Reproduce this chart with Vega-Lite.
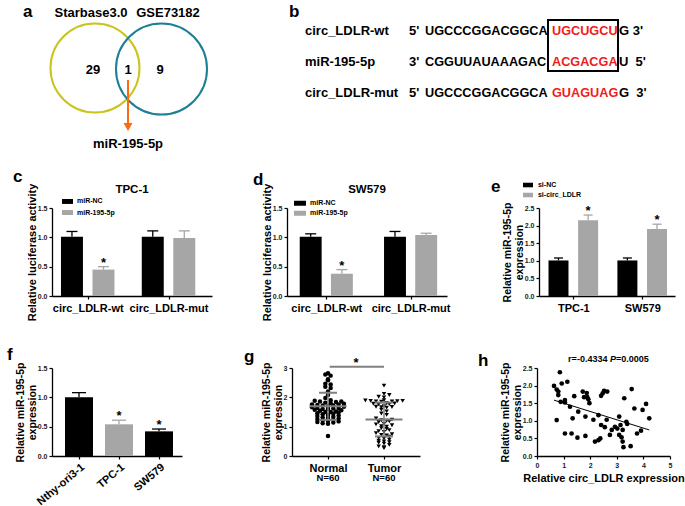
{
"$schema": "https://vega.github.io/schema/vega-lite/v6.json",
"padding": {"left": 7, "top": 0, "right": 0, "bottom": 0},
"spacing": 25,
"config": {
  "font": "Liberation Sans",
  "view": {"stroke": null},
  "axis": {"grid": false, "domainColor": "#000000", "domainWidth": 1.3, "tickColor": "#000000", "tickWidth": 1.2, "tickSize": 3, "labelFont": "Liberation Sans", "labelFontWeight": "bold", "labelFontSize": 7, "labelColor": "#1a1a1a", "labelFlush": false, "labelOverlap": false, "titleFont": "Liberation Sans", "titleFontWeight": "bold", "titleFontSize": 11, "titleColor": "#000000", "labelPadding": 2, "titlePadding": 0, "titleLineHeight": 11.5},
  "legend": {"disable": true},
  "text": {"font": "Liberation Sans", "fontWeight": "bold", "color": "#000000"}
},
"vconcat": [
 {
  "spacing": 15,
  "vconcat": [
  {
    "hconcat": [
      {
        "width": 178, "height": 136,
        "layer": [
          {"data": {"values": [{"set": "Starbase3.0"}]}, "mark": {"type": "point", "filled": false, "size": 7921, "strokeWidth": 2, "color": "#c9c41e", "opacity": 1},
           "encoding": {"x": {"datum": 4.3, "type": "quantitative", "scale": {"domain": [0, 17.8]}, "axis": null}, "y": {"datum": 6.8, "type": "quantitative", "scale": {"domain": [0, 13.6], "reverse": true}, "axis": null}}},
          {"data": {"values": [{"set": "GSE73182"}]}, "mark": {"type": "point", "filled": false, "size": 8281, "strokeWidth": 2, "color": "#1d7f95", "opacity": 1},
           "encoding": {"x": {"datum": 10.95, "type": "quantitative", "scale": {"domain": [0, 17.8]}, "axis": null}, "y": {"datum": 6.9, "type": "quantitative", "scale": {"domain": [0, 13.6], "reverse": true}, "axis": null}}},
          {"data": {"values": [{"label": "Starbase3.0"}]}, "mark": {"type": "text", "fontSize": 13, "baseline": "alphabetic"},
           "encoding": {"x": {"datum": 3.9, "type": "quantitative", "scale": {"domain": [0, 17.8]}, "axis": null}, "y": {"datum": 1.7, "type": "quantitative", "scale": {"domain": [0, 13.6], "reverse": true}, "axis": null}, "text": {"field": "label"}}},
          {"data": {"values": [{"label": "GSE73182"}]}, "mark": {"type": "text", "fontSize": 13, "baseline": "alphabetic"},
           "encoding": {"x": {"datum": 11.6, "type": "quantitative", "scale": {"domain": [0, 17.8]}, "axis": null}, "y": {"datum": 1.7, "type": "quantitative", "scale": {"domain": [0, 13.6], "reverse": true}, "axis": null}, "text": {"field": "label"}}},
          {"data": {"values": [{"region": "Starbase3.0 only", "count": 29}]}, "mark": {"type": "text", "fontSize": 13, "baseline": "alphabetic"},
           "encoding": {"x": {"datum": 4.1, "type": "quantitative", "scale": {"domain": [0, 17.8]}, "axis": null}, "y": {"datum": 7.4, "type": "quantitative", "scale": {"domain": [0, 13.6], "reverse": true}, "axis": null}, "text": {"field": "count"}}},
          {"data": {"values": [{"region": "both", "count": 1}]}, "mark": {"type": "text", "fontSize": 13, "baseline": "alphabetic"},
           "encoding": {"x": {"datum": 7.6, "type": "quantitative", "scale": {"domain": [0, 17.8]}, "axis": null}, "y": {"datum": 7.4, "type": "quantitative", "scale": {"domain": [0, 13.6], "reverse": true}, "axis": null}, "text": {"field": "count"}}},
          {"data": {"values": [{"region": "GSE73182 only", "count": 9}]}, "mark": {"type": "text", "fontSize": 13, "baseline": "alphabetic"},
           "encoding": {"x": {"datum": 10.8, "type": "quantitative", "scale": {"domain": [0, 17.8]}, "axis": null}, "y": {"datum": 7.4, "type": "quantitative", "scale": {"domain": [0, 13.6], "reverse": true}, "axis": null}, "text": {"field": "count"}}},
          {"data": {"values": [{"arrow": "shared"}]}, "mark": {"type": "rule", "color": "#ff6a10", "strokeWidth": 2},
           "encoding": {"x": {"datum": 7.6, "type": "quantitative", "scale": {"domain": [0, 17.8]}, "axis": null}, "y": {"datum": 8.0, "type": "quantitative", "scale": {"domain": [0, 13.6], "reverse": true}, "axis": null}, "y2": {"datum": 12.4}}},
          {"data": {"values": [{"arrow": "head"}]}, "mark": {"type": "point", "shape": "triangle-down", "filled": true, "size": 81, "color": "#ff6a10", "opacity": 1},
           "encoding": {"x": {"datum": 7.6, "type": "quantitative", "scale": {"domain": [0, 17.8]}, "axis": null}, "y": {"datum": 12.7, "type": "quantitative", "scale": {"domain": [0, 13.6], "reverse": true}, "axis": null}}},
          {"data": {"values": [{"label": "miR-195-5p"}]}, "mark": {"type": "text", "fontSize": 13, "baseline": "alphabetic"},
           "encoding": {"x": {"datum": 7.6, "type": "quantitative", "scale": {"domain": [0, 17.8]}, "axis": null}, "y": {"datum": 14.8, "type": "quantitative", "scale": {"domain": [0, 13.6], "reverse": true}, "axis": null}, "text": {"field": "label"}}},
          {"data": {"values": [{"panel": "a"}]}, "mark": {"type": "text", "fontSize": 17, "align": "left", "baseline": "alphabetic"},
           "encoding": {"x": {"datum": -2.9, "type": "quantitative", "scale": {"domain": [0, 17.8]}, "axis": null}, "y": {"datum": 1.7, "type": "quantitative", "scale": {"domain": [0, 13.6], "reverse": true}, "axis": null}, "text": {"field": "panel"}}}
        ]
      },
      {
        "width": 405, "height": 124,
        "data": {"values": [
          {"line": 1, "name": "circ_LDLR-wt", "p5": "5'", "seq": "UGCCCGGACGGCA", "site": "UGCUGCU", "p3": "G 3'"},
          {"line": 2, "name": "miR-195-5p", "p5": "3'", "seq": "CGGUUAUAAAGAC", "site": "ACGACGA", "p3": "U\u00a0\u00a05'"},
          {"line": 3, "name": "circ_LDLR-mut", "p5": "5'", "seq": "UGCCCGGACGGCA", "site": "GUAGUAG", "p3": "G\u00a0\u00a03'"}
        ]},
        "layer": [
          {"mark": {"type": "text", "align": "left", "baseline": "middle", "fontSize": 13},
           "encoding": {"x": {"datum": 2.5, "type": "quantitative", "scale": {"domain": [0, 40.5]}, "axis": null}, "y": {"field": "line", "type": "quantitative", "scale": {"domain": [0, 4], "reverse": true}, "axis": null}, "text": {"field": "name"}}},
          {"mark": {"type": "text", "align": "left", "baseline": "middle", "fontSize": 13},
           "encoding": {"x": {"datum": 12.9, "type": "quantitative", "scale": {"domain": [0, 40.5]}, "axis": null}, "y": {"field": "line", "type": "quantitative", "scale": {"domain": [0, 4], "reverse": true}, "axis": null}, "text": {"field": "p5"}}},
          {"mark": {"type": "text", "align": "left", "baseline": "middle", "fontSize": 12.7},
           "encoding": {"x": {"datum": 14.5, "type": "quantitative", "scale": {"domain": [0, 40.5]}, "axis": null}, "y": {"field": "line", "type": "quantitative", "scale": {"domain": [0, 4], "reverse": true}, "axis": null}, "text": {"field": "seq"}}},
          {"mark": {"type": "text", "align": "left", "baseline": "middle", "fontSize": 12.7, "color": "#f01c1c"},
           "encoding": {"x": {"datum": 27.2, "type": "quantitative", "scale": {"domain": [0, 40.5]}, "axis": null}, "y": {"field": "line", "type": "quantitative", "scale": {"domain": [0, 4], "reverse": true}, "axis": null}, "text": {"field": "site"}}},
          {"mark": {"type": "text", "align": "left", "baseline": "middle", "fontSize": 13},
           "encoding": {"x": {"datum": 33.9, "type": "quantitative", "scale": {"domain": [0, 40.5]}, "axis": null}, "y": {"field": "line", "type": "quantitative", "scale": {"domain": [0, 4], "reverse": true}, "axis": null}, "text": {"field": "p3"}}},
          {"data": {"values": [{"box": "seed region"}]}, "mark": {"type": "rect", "filled": false, "color": "#000000", "strokeWidth": 2},
           "encoding": {"x": {"datum": 26.8, "type": "quantitative", "scale": {"domain": [0, 40.5]}, "axis": null}, "x2": {"datum": 33.8}, "y": {"datum": 0.645, "type": "quantitative", "scale": {"domain": [0, 4], "reverse": true}, "axis": null}, "y2": {"datum": 2.29}}},
          {"data": {"values": [{"panel": "b"}]}, "mark": {"type": "text", "align": "left", "baseline": "alphabetic", "fontSize": 17},
           "encoding": {"x": {"datum": 0.9, "type": "quantitative", "scale": {"domain": [0, 40.5]}, "axis": null}, "y": {"datum": 0.55, "type": "quantitative", "scale": {"domain": [0, 4], "reverse": true}, "axis": null}, "text": {"field": "panel"}}}
        ]
      }
    ],
    "spacing": 50
  },
  {
    "hconcat": [
      {
        "hconcat": [
          {
            "width": 160, "height": 88,
            "data": {"values": [
              {"cat": "circ_LDLR-wt", "grp": "miR-NC", "value": 1.01, "hi": 1.10, "sig": ""},
              {"cat": "circ_LDLR-wt", "grp": "miR-195-5p", "value": 0.45, "hi": 0.50, "sig": "*"},
              {"cat": "circ_LDLR-mut", "grp": "miR-NC", "value": 1.01, "hi": 1.11, "sig": ""},
              {"cat": "circ_LDLR-mut", "grp": "miR-195-5p", "value": 0.99, "hi": 1.11, "sig": ""}
            ]},
            "transform": [
              {"calculate": "indexof(['circ_LDLR-wt','circ_LDLR-mut'], datum.cat) + (indexof(['miR-NC','miR-195-5p'], datum.grp) - 0.5) * 0.39", "as": "bx"},
              {"calculate": "datum.bx - 0.136", "as": "bx1"},
              {"calculate": "datum.bx + 0.136", "as": "bx2"}
            ],
            "encoding": {
              "color": {"field": "grp", "type": "nominal", "scale": {"domain": ["miR-NC", "miR-195-5p"], "range": ["#000000", "#a6a6a6"]}, "legend": null}
            },
            "layer": [
              {"mark": {"type": "rule", "strokeWidth": 1.3}, "encoding": {"x": {"field": "bx", "type": "quantitative", "scale": {"domain": [-0.442, 1.538], "nice": false, "zero": false}}, "y": {"field": "value", "type": "quantitative", "scale": {"domain": [0, 1.5]}}, "y2": {"field": "hi"}}},
              {"mark": {"type": "tick", "orient": "horizontal", "thickness": 1.3, "size": 11, "opacity": 1}, "encoding": {"x": {"field": "bx", "type": "quantitative", "scale": {"domain": [-0.442, 1.538], "nice": false, "zero": false}}, "y": {"field": "hi", "type": "quantitative", "scale": {"domain": [0, 1.5]}}}},
              {"mark": {"type": "rect"}, "encoding": {
                "x": {"field": "bx1", "type": "quantitative", "scale": {"domain": [-0.442, 1.538], "nice": false, "zero": false}, "axis": {"values": [0, 1], "tickCount": 20, "labelExpr": "datum.value == 0 ? 'circ_LDLR-wt' : 'circ_LDLR-mut'", "title": null, "labelFontSize": 11, "labelColor": "#000000", "labelPadding": 3, "labelOverlap": false}},
                "x2": {"field": "bx2"},
                "y": {"field": "value", "type": "quantitative", "scale": {"domain": [0, 1.5]}, "axis": {"values": [0, 0.5, 1, 1.5], "tickCount": 20, "format": ".1f", "title": "Relative luciferase activity", "labelOverlap": false}},
                "y2": {"datum": 0}}},
              {"mark": {"type": "text", "fontSize": 13, "baseline": "alphabetic"}, "encoding": {"x": {"field": "bx", "type": "quantitative", "scale": {"domain": [-0.442, 1.538], "nice": false, "zero": false}}, "y": {"field": "hi", "type": "quantitative", "scale": {"domain": [0, 1.5]}}, "text": {"field": "sig"}, "color": {"value": "#000000"}}},
              {"data": {"values": [{"grp": "miR-NC"}, {"grp": "miR-195-5p"}]},
               "transform": [{"calculate": "1.611 - indexof(['miR-NC','miR-195-5p'], datum.grp) * 0.188", "as": "ly"}, {"calculate": "datum.ly + 0.042", "as": "ly1"}, {"calculate": "datum.ly - 0.042", "as": "ly2"}],
               "layer": [
                 {"mark": {"type": "rect"}, "encoding": {"x": {"datum": -0.318, "type": "quantitative", "scale": {"domain": [-0.442, 1.538], "nice": false, "zero": false}}, "x2": {"datum": -0.182}, "y": {"field": "ly1", "type": "quantitative", "scale": {"domain": [0, 1.5]}}, "y2": {"field": "ly2"}}},
                 {"mark": {"type": "text", "fontSize": 7, "align": "left", "baseline": "middle"}, "encoding": {"x": {"datum": -0.133, "type": "quantitative", "scale": {"domain": [-0.442, 1.538], "nice": false, "zero": false}}, "y": {"field": "ly", "type": "quantitative", "scale": {"domain": [0, 1.5]}}, "text": {"field": "grp"}, "color": {"value": "#000000"}}}
               ]},
              {"data": {"values": [{"cell": "TPC-1"}]}, "mark": {"type": "text", "fontSize": 11.5, "baseline": "alphabetic"},
               "encoding": {"x": {"datum": 0.548, "type": "quantitative", "scale": {"domain": [-0.442, 1.538], "nice": false, "zero": false}}, "y": {"datum": 1.756, "type": "quantitative", "scale": {"domain": [0, 1.5]}}, "text": {"field": "cell"}, "color": {"value": "#000000"}}},
              {"data": {"values": [{"panel": "c"}]}, "mark": {"type": "text", "fontSize": 17, "align": "left", "baseline": "alphabetic"},
               "encoding": {"x": {"datum": -0.925, "type": "quantitative", "scale": {"domain": [-0.442, 1.538], "nice": false, "zero": false}}, "y": {"datum": 1.948, "type": "quantitative", "scale": {"domain": [0, 1.5]}}, "text": {"field": "panel"}, "color": {"value": "#000000"}}}
            ]
          },
          {
            "width": 160, "height": 88,
            "data": {"values": [
              {"cat": "circ_LDLR-wt", "grp": "miR-NC", "value": 1.01, "hi": 1.06, "sig": ""},
              {"cat": "circ_LDLR-wt", "grp": "miR-195-5p", "value": 0.38, "hi": 0.45, "sig": "*"},
              {"cat": "circ_LDLR-mut", "grp": "miR-NC", "value": 1.01, "hi": 1.10, "sig": ""},
              {"cat": "circ_LDLR-mut", "grp": "miR-195-5p", "value": 1.04, "hi": 1.07, "sig": ""}
            ]},
            "transform": [
              {"calculate": "indexof(['circ_LDLR-wt','circ_LDLR-mut'], datum.cat) + (indexof(['miR-NC','miR-195-5p'], datum.grp) - 0.5) * 0.37", "as": "bx"},
              {"calculate": "datum.bx - 0.13", "as": "bx1"},
              {"calculate": "datum.bx + 0.13", "as": "bx2"}
            ],
            "encoding": {
              "color": {"field": "grp", "type": "nominal", "scale": {"domain": ["miR-NC", "miR-195-5p"], "range": ["#000000", "#a6a6a6"]}, "legend": null}
            },
            "layer": [
              {"mark": {"type": "rule", "strokeWidth": 1.3}, "encoding": {"x": {"field": "bx", "type": "quantitative", "scale": {"domain": [-0.466, 1.432], "nice": false, "zero": false}}, "y": {"field": "value", "type": "quantitative", "scale": {"domain": [0, 1.5]}}, "y2": {"field": "hi"}}},
              {"mark": {"type": "tick", "orient": "horizontal", "thickness": 1.3, "size": 11, "opacity": 1}, "encoding": {"x": {"field": "bx", "type": "quantitative", "scale": {"domain": [-0.466, 1.432], "nice": false, "zero": false}}, "y": {"field": "hi", "type": "quantitative", "scale": {"domain": [0, 1.5]}}}},
              {"mark": {"type": "rect"}, "encoding": {
                "x": {"field": "bx1", "type": "quantitative", "scale": {"domain": [-0.466, 1.432], "nice": false, "zero": false}, "axis": {"values": [0, 1], "tickCount": 20, "labelExpr": "datum.value == 0 ? 'circ_LDLR-wt' : 'circ_LDLR-mut'", "title": null, "labelFontSize": 11, "labelColor": "#000000", "labelPadding": 3, "labelOverlap": false}},
                "x2": {"field": "bx2"},
                "y": {"field": "value", "type": "quantitative", "scale": {"domain": [0, 1.5]}, "axis": {"values": [0, 0.5, 1, 1.5], "tickCount": 20, "format": ".1f", "title": "Relative luciferase activity", "labelOverlap": false}},
                "y2": {"datum": 0}}},
              {"mark": {"type": "text", "fontSize": 13, "baseline": "alphabetic"}, "encoding": {"x": {"field": "bx", "type": "quantitative", "scale": {"domain": [-0.466, 1.432], "nice": false, "zero": false}}, "y": {"field": "hi", "type": "quantitative", "scale": {"domain": [0, 1.5]}}, "text": {"field": "sig"}, "color": {"value": "#000000"}}},
              {"data": {"values": [{"grp": "miR-NC"}, {"grp": "miR-195-5p"}]},
               "transform": [{"calculate": "1.580 - indexof(['miR-NC','miR-195-5p'], datum.grp) * 0.168", "as": "ly"}, {"calculate": "datum.ly + 0.042", "as": "ly1"}, {"calculate": "datum.ly - 0.042", "as": "ly2"}],
               "layer": [
                 {"mark": {"type": "rect"}, "encoding": {"x": {"datum": -0.383, "type": "quantitative", "scale": {"domain": [-0.466, 1.432], "nice": false, "zero": false}}, "x2": {"datum": -0.241}, "y": {"field": "ly1", "type": "quantitative", "scale": {"domain": [0, 1.5]}}, "y2": {"field": "ly2"}}},
                 {"mark": {"type": "text", "fontSize": 7, "align": "left", "baseline": "middle"}, "encoding": {"x": {"datum": -0.193, "type": "quantitative", "scale": {"domain": [-0.466, 1.432], "nice": false, "zero": false}}, "y": {"field": "ly", "type": "quantitative", "scale": {"domain": [0, 1.5]}}, "text": {"field": "grp"}, "color": {"value": "#000000"}}}
               ]},
              {"data": {"values": [{"cell": "SW579"}]}, "mark": {"type": "text", "fontSize": 11.5, "baseline": "alphabetic"},
               "encoding": {"x": {"datum": 0.483, "type": "quantitative", "scale": {"domain": [-0.466, 1.432], "nice": false, "zero": false}}, "y": {"datum": 1.756, "type": "quantitative", "scale": {"domain": [0, 1.5]}}, "text": {"field": "cell"}, "color": {"value": "#000000"}}},
              {"data": {"values": [{"panel": "d"}]}, "mark": {"type": "text", "fontSize": 17, "align": "left", "baseline": "alphabetic"},
               "encoding": {"x": {"datum": -0.869, "type": "quantitative", "scale": {"domain": [-0.466, 1.432], "nice": false, "zero": false}}, "y": {"datum": 1.892, "type": "quantitative", "scale": {"domain": [0, 1.5]}}, "text": {"field": "panel"}, "color": {"value": "#000000"}}}
            ]
          }
        ],
        "spacing": 41
      },
      {
        "width": 136, "height": 88,
        "data": {"values": [
          {"cat": "TPC-1", "grp": "si-NC", "value": 1.01, "hi": 1.08, "sig": ""},
          {"cat": "TPC-1", "grp": "si-circ_LDLR", "value": 2.15, "hi": 2.30, "sig": "*"},
          {"cat": "SW579", "grp": "si-NC", "value": 1.01, "hi": 1.08, "sig": ""},
          {"cat": "SW579", "grp": "si-circ_LDLR", "value": 1.90, "hi": 2.04, "sig": "*"}
        ]},
        "transform": [
          {"calculate": "indexof(['TPC-1','SW579'], datum.cat) + (indexof(['si-NC','si-circ_LDLR'], datum.grp) - 0.5) * 0.43", "as": "bx"},
          {"calculate": "datum.bx - 0.145", "as": "bx1"},
          {"calculate": "datum.bx + 0.145", "as": "bx2"}
        ],
        "encoding": {
          "color": {"field": "grp", "type": "nominal", "scale": {"domain": ["si-NC", "si-circ_LDLR"], "range": ["#000000", "#a6a6a6"]}, "legend": null}
        },
        "layer": [
          {"mark": {"type": "rule", "strokeWidth": 1.3}, "encoding": {"x": {"field": "bx", "type": "quantitative", "scale": {"domain": [-0.498, 1.476], "nice": false, "zero": false}}, "y": {"field": "value", "type": "quantitative", "scale": {"domain": [0, 2.5]}}, "y2": {"field": "hi"}}},
          {"mark": {"type": "tick", "orient": "horizontal", "thickness": 1.3, "size": 9, "opacity": 1}, "encoding": {"x": {"field": "bx", "type": "quantitative", "scale": {"domain": [-0.498, 1.476], "nice": false, "zero": false}}, "y": {"field": "hi", "type": "quantitative", "scale": {"domain": [0, 2.5]}}}},
          {"mark": {"type": "rect"}, "encoding": {
            "x": {"field": "bx1", "type": "quantitative", "scale": {"domain": [-0.498, 1.476], "nice": false, "zero": false}, "axis": {"values": [0, 1], "tickCount": 20, "labelExpr": "datum.value == 0 ? 'TPC-1' : 'SW579'", "title": null, "labelFontSize": 11, "labelColor": "#000000", "labelPadding": 3, "labelOverlap": false}},
            "x2": {"field": "bx2"},
            "y": {"field": "value", "type": "quantitative", "scale": {"domain": [0, 2.5]}, "axis": {"values": [0, 0.5, 1, 1.5, 2, 2.5], "tickCount": 20, "format": ".1f", "title": ["Relative miR-195-5p", "expression"], "titleFontSize": 10.5, "labelOverlap": false}},
            "y2": {"datum": 0}}},
          {"mark": {"type": "text", "fontSize": 13, "baseline": "alphabetic"}, "encoding": {"x": {"field": "bx", "type": "quantitative", "scale": {"domain": [-0.498, 1.476], "nice": false, "zero": false}}, "y": {"field": "hi", "type": "quantitative", "scale": {"domain": [0, 2.5]}}, "text": {"field": "sig"}, "color": {"value": "#000000"}}},
          {"data": {"values": [{"grp": "si-NC"}, {"grp": "si-circ_LDLR"}]},
           "transform": [{"calculate": "3.153 - indexof(['si-NC','si-circ_LDLR'], datum.grp) * 0.284", "as": "ly"}, {"calculate": "datum.ly + 0.065", "as": "ly1"}, {"calculate": "datum.ly - 0.065", "as": "ly2"}],
           "layer": [
             {"mark": {"type": "rect"}, "encoding": {"x": {"datum": -0.73, "type": "quantitative", "scale": {"domain": [-0.498, 1.476], "nice": false, "zero": false}}, "x2": {"datum": -0.585}, "y": {"field": "ly1", "type": "quantitative", "scale": {"domain": [0, 2.5]}}, "y2": {"field": "ly2"}}},
             {"mark": {"type": "text", "fontSize": 7, "align": "left", "baseline": "middle"}, "encoding": {"x": {"datum": -0.513, "type": "quantitative", "scale": {"domain": [-0.498, 1.476], "nice": false, "zero": false}}, "y": {"field": "ly", "type": "quantitative", "scale": {"domain": [0, 2.5]}}, "text": {"field": "grp"}, "color": {"value": "#000000"}}}
           ]},
          {"data": {"values": [{"panel": "e"}]}, "mark": {"type": "text", "fontSize": 17, "align": "left", "baseline": "alphabetic"},
           "encoding": {"x": {"datum": -1.195, "type": "quantitative", "scale": {"domain": [-0.498, 1.476], "nice": false, "zero": false}}, "y": {"datum": 2.955, "type": "quantitative", "scale": {"domain": [0, 2.5]}}, "text": {"field": "panel"}, "color": {"value": "#000000"}}}
        ]
      }
    ],
    "spacing": 39
  }
  ]
 },
  {
    "hconcat": [
      {
        "hconcat": [
          {
            "width": 130, "height": 88,
            "data": {"values": [
              {"cat": "Nthy-ori3-1", "value": 1.0, "hi": 1.08, "sig": ""},
              {"cat": "TPC-1", "value": 0.54, "hi": 0.61, "sig": "*"},
              {"cat": "SW579", "value": 0.42, "hi": 0.46, "sig": "*"}
            ]},
            "transform": [
              {"calculate": "0.27 + 0.4 * indexof(['Nthy-ori3-1','TPC-1','SW579'], datum.cat)", "as": "bx"},
              {"calculate": "datum.bx - 0.14", "as": "bx1"},
              {"calculate": "datum.bx + 0.14", "as": "bx2"}
            ],
            "encoding": {
              "color": {"field": "cat", "type": "nominal", "scale": {"domain": ["Nthy-ori3-1", "TPC-1", "SW579"], "range": ["#000000", "#a6a6a6", "#7f7f7f"]}, "legend": null}
            },
            "layer": [
              {"mark": {"type": "rule", "strokeWidth": 1.3}, "encoding": {"x": {"field": "bx", "type": "quantitative", "scale": {"domain": [0, 1.3], "nice": false, "zero": false}}, "y": {"field": "value", "type": "quantitative", "scale": {"domain": [0, 1.5]}}, "y2": {"field": "hi"}}},
              {"mark": {"type": "tick", "orient": "horizontal", "thickness": 1.3, "size": 14, "opacity": 1}, "encoding": {"x": {"field": "bx", "type": "quantitative", "scale": {"domain": [0, 1.3], "nice": false, "zero": false}}, "y": {"field": "hi", "type": "quantitative", "scale": {"domain": [0, 1.5]}}}},
              {"mark": {"type": "rect"}, "encoding": {
                "x": {"field": "bx1", "type": "quantitative", "scale": {"domain": [0, 1.3], "nice": false, "zero": false}, "axis": {"values": [0.27, 0.67, 1.07], "tickCount": 20, "labelExpr": "datum.value < 0.5 ? 'Nthy-ori3-1' : (datum.value < 0.9 ? 'TPC-1' : 'SW579')", "title": null, "labelAngle": -40, "labelAlign": "right", "labelBaseline": "top", "labelFontSize": 11, "labelColor": "#000000", "labelPadding": 2, "labelOverlap": false}},
                "x2": {"field": "bx2"},
                "y": {"field": "value", "type": "quantitative", "scale": {"domain": [0, 1.5]}, "axis": {"values": [0, 0.5, 1, 1.5], "tickCount": 20, "format": ".1f", "title": ["Relative miR-195-5p", "expression"], "titleFontSize": 10.5, "labelOverlap": false}},
                "y2": {"datum": 0}}},
              {"mark": {"type": "text", "fontSize": 13, "baseline": "alphabetic"}, "encoding": {"x": {"field": "bx", "type": "quantitative", "scale": {"domain": [0, 1.3], "nice": false, "zero": false}}, "y": {"field": "hi", "type": "quantitative", "scale": {"domain": [0, 1.5]}}, "text": {"field": "sig"}, "color": {"value": "#000000"}}},
              {"data": {"values": [{"panel": "f"}]}, "mark": {"type": "text", "fontSize": 17, "align": "left", "baseline": "alphabetic"},
               "encoding": {"x": {"datum": -0.45, "type": "quantitative", "scale": {"domain": [0, 1.3], "nice": false, "zero": false}}, "y": {"datum": 1.636, "type": "quantitative", "scale": {"domain": [0, 1.5]}}, "text": {"field": "panel"}, "color": {"value": "#000000"}}}
            ]
          },
          {
            "width": 128, "height": 88,
            "data": {"values": [
              {"group": "Normal", "value": 2.82}, {"group": "Normal", "value": 2.78}, {"group": "Normal", "value": 2.74}, {"group": "Normal", "value": 2.62},
              {"group": "Normal", "value": 2.58}, {"group": "Normal", "value": 2.46}, {"group": "Normal", "value": 2.44}, {"group": "Normal", "value": 2.36},
              {"group": "Normal", "value": 2.32}, {"group": "Normal", "value": 2.20}, {"group": "Normal", "value": 2.08}, {"group": "Normal", "value": 1.98},
              {"group": "Normal", "value": 1.90}, {"group": "Normal", "value": 1.88}, {"group": "Normal", "value": 1.86}, {"group": "Normal", "value": 1.86},
              {"group": "Normal", "value": 1.84}, {"group": "Normal", "value": 1.82}, {"group": "Normal", "value": 1.80}, {"group": "Normal", "value": 1.78},
              {"group": "Normal", "value": 1.76}, {"group": "Normal", "value": 1.76}, {"group": "Normal", "value": 1.74}, {"group": "Normal", "value": 1.72},
              {"group": "Normal", "value": 1.72}, {"group": "Normal", "value": 1.70}, {"group": "Normal", "value": 1.68}, {"group": "Normal", "value": 1.66},
              {"group": "Normal", "value": 1.64}, {"group": "Normal", "value": 1.64}, {"group": "Normal", "value": 1.62}, {"group": "Normal", "value": 1.60},
              {"group": "Normal", "value": 1.60}, {"group": "Normal", "value": 1.58}, {"group": "Normal", "value": 1.56}, {"group": "Normal", "value": 1.54},
              {"group": "Normal", "value": 1.52}, {"group": "Normal", "value": 1.50}, {"group": "Normal", "value": 1.50}, {"group": "Normal", "value": 1.48},
              {"group": "Normal", "value": 1.46}, {"group": "Normal", "value": 1.44}, {"group": "Normal", "value": 1.42}, {"group": "Normal", "value": 1.40},
              {"group": "Normal", "value": 1.38}, {"group": "Normal", "value": 1.36}, {"group": "Normal", "value": 1.34}, {"group": "Normal", "value": 1.32},
              {"group": "Normal", "value": 1.30}, {"group": "Normal", "value": 1.28}, {"group": "Normal", "value": 1.26}, {"group": "Normal", "value": 1.24},
              {"group": "Normal", "value": 1.22}, {"group": "Normal", "value": 1.20}, {"group": "Normal", "value": 1.18}, {"group": "Normal", "value": 1.16},
              {"group": "Normal", "value": 1.14}, {"group": "Normal", "value": 1.12}, {"group": "Normal", "value": 1.10}, {"group": "Normal", "value": 0.68},
              {"group": "Tumor", "value": 2.40}, {"group": "Tumor", "value": 2.12}, {"group": "Tumor", "value": 2.08}, {"group": "Tumor", "value": 2.02},
              {"group": "Tumor", "value": 2.00}, {"group": "Tumor", "value": 1.90}, {"group": "Tumor", "value": 1.89}, {"group": "Tumor", "value": 1.88},
              {"group": "Tumor", "value": 1.88}, {"group": "Tumor", "value": 1.87}, {"group": "Tumor", "value": 1.86}, {"group": "Tumor", "value": 1.86},
              {"group": "Tumor", "value": 1.85}, {"group": "Tumor", "value": 1.80}, {"group": "Tumor", "value": 1.79}, {"group": "Tumor", "value": 1.78},
              {"group": "Tumor", "value": 1.77}, {"group": "Tumor", "value": 1.76}, {"group": "Tumor", "value": 1.70}, {"group": "Tumor", "value": 1.68},
              {"group": "Tumor", "value": 1.67}, {"group": "Tumor", "value": 1.66}, {"group": "Tumor", "value": 1.65}, {"group": "Tumor", "value": 1.58},
              {"group": "Tumor", "value": 1.52}, {"group": "Tumor", "value": 1.45}, {"group": "Tumor", "value": 1.40}, {"group": "Tumor", "value": 1.28},
              {"group": "Tumor", "value": 1.24}, {"group": "Tumor", "value": 1.22}, {"group": "Tumor", "value": 1.20}, {"group": "Tumor", "value": 1.18},
              {"group": "Tumor", "value": 1.16}, {"group": "Tumor", "value": 1.10}, {"group": "Tumor", "value": 1.08}, {"group": "Tumor", "value": 1.05},
              {"group": "Tumor", "value": 1.02}, {"group": "Tumor", "value": 1.00}, {"group": "Tumor", "value": 0.95}, {"group": "Tumor", "value": 0.92},
              {"group": "Tumor", "value": 0.88}, {"group": "Tumor", "value": 0.85}, {"group": "Tumor", "value": 0.82}, {"group": "Tumor", "value": 0.78},
              {"group": "Tumor", "value": 0.74}, {"group": "Tumor", "value": 0.72}, {"group": "Tumor", "value": 0.70}, {"group": "Tumor", "value": 0.66},
              {"group": "Tumor", "value": 0.62}, {"group": "Tumor", "value": 0.60}, {"group": "Tumor", "value": 0.56}, {"group": "Tumor", "value": 0.52},
              {"group": "Tumor", "value": 0.50}, {"group": "Tumor", "value": 0.47}, {"group": "Tumor", "value": 0.45}, {"group": "Tumor", "value": 0.42},
              {"group": "Tumor", "value": 0.38}, {"group": "Tumor", "value": 0.33}, {"group": "Tumor", "value": 0.30}, {"group": "Tumor", "value": 0.27}
            ]},
            "layer": [
              {
                "transform": [
                  {"calculate": "datum.group === 'Normal' ? 1 : 2", "as": "gx"},
                  {"bin": {"step": 0.1}, "field": "value", "as": "vb"},
                  {"window": [{"op": "row_number", "as": "rk"}], "groupby": ["group", "vb"], "sort": [{"field": "value", "order": "ascending"}]},
                  {"joinaggregate": [{"op": "count", "as": "n"}], "groupby": ["group", "vb"]},
                  {"calculate": "datum.gx + (datum.rk % 2 == 0 ? -1 : 1) * floor(datum.rk / 2) * 0.095 + (datum.n % 2 == 0 ? 0.0475 : 0)", "as": "px"}
                ],
                "mark": {"type": "point", "filled": true, "opacity": 1, "color": "#000000", "size": 20},
                "encoding": {
                  "x": {"field": "px", "type": "quantitative", "scale": {"domain": [0.357, 2.643], "nice": false, "zero": false}, "axis": {"values": [1, 2], "tickCount": 20, "labelExpr": "datum.value == 1 ? 'Normal' : 'Tumor'", "title": null, "labelFontSize": 11, "labelColor": "#000000", "labelPadding": 3, "labelOverlap": false}},
                  "y": {"field": "value", "type": "quantitative", "scale": {"domain": [0, 3]}, "axis": {"values": [0, 1, 2, 3], "tickCount": 20, "format": "d", "title": ["Relative miR-195-5p", "expression"], "titleFontSize": 10.5, "labelOverlap": false}},
                  "shape": {"field": "group", "type": "nominal", "scale": {"domain": ["Normal", "Tumor"], "range": ["circle", "triangle-down"]}, "legend": null}
                }
              },
              {
                "transform": [
                  {"aggregate": [{"op": "mean", "field": "value", "as": "m"}, {"op": "stdev", "field": "value", "as": "s"}], "groupby": ["group"]},
                  {"calculate": "datum.group === 'Normal' ? 1 : 2", "as": "px"},
                  {"calculate": "datum.m - datum.s", "as": "lo"},
                  {"calculate": "datum.m + datum.s", "as": "hi"}
                ],
                "layer": [
                  {"mark": {"type": "rule", "color": "#808080", "strokeWidth": 1.5}, "encoding": {"x": {"field": "px", "type": "quantitative", "scale": {"domain": [0.357, 2.643], "nice": false, "zero": false}}, "y": {"field": "lo", "type": "quantitative", "scale": {"domain": [0, 3]}}, "y2": {"field": "hi"}}},
                  {"mark": {"type": "tick", "orient": "horizontal", "color": "#808080", "thickness": 2, "size": 37, "opacity": 1}, "encoding": {"x": {"field": "px", "type": "quantitative", "scale": {"domain": [0.357, 2.643], "nice": false, "zero": false}}, "y": {"field": "m", "type": "quantitative", "scale": {"domain": [0, 3]}}}},
                  {"mark": {"type": "tick", "orient": "horizontal", "color": "#808080", "thickness": 2, "size": 18, "opacity": 1}, "encoding": {"x": {"field": "px", "type": "quantitative", "scale": {"domain": [0.357, 2.643], "nice": false, "zero": false}}, "y": {"field": "hi", "type": "quantitative", "scale": {"domain": [0, 3]}}}},
                  {"mark": {"type": "tick", "orient": "horizontal", "color": "#808080", "thickness": 2, "size": 18, "opacity": 1}, "encoding": {"x": {"field": "px", "type": "quantitative", "scale": {"domain": [0.357, 2.643], "nice": false, "zero": false}}, "y": {"field": "lo", "type": "quantitative", "scale": {"domain": [0, 3]}}}}
                ]
              },
              {"data": {"values": [{"test": "Normal vs Tumor"}]}, "mark": {"type": "rule", "color": "#808080", "strokeWidth": 2},
               "encoding": {"x": {"datum": 1.03, "type": "quantitative", "scale": {"domain": [0.357, 2.643], "nice": false, "zero": false}}, "x2": {"datum": 2.0}, "y": {"datum": 3.04, "type": "quantitative", "scale": {"domain": [0, 3]}}}},
              {"data": {"values": [{"sig": "*"}]}, "mark": {"type": "text", "fontSize": 13, "baseline": "alphabetic"},
               "encoding": {"x": {"datum": 1.5, "type": "quantitative", "scale": {"domain": [0.357, 2.643], "nice": false, "zero": false}}, "y": {"datum": 3.02, "type": "quantitative", "scale": {"domain": [0, 3]}}, "text": {"field": "sig"}}},
              {"data": {"values": [{"group": "Normal", "n": "N=60"}, {"group": "Tumor", "n": "N=60"}]},
               "transform": [{"calculate": "datum.group === 'Normal' ? 1 : 2", "as": "px"}],
               "mark": {"type": "text", "fontSize": 9.5, "baseline": "alphabetic"},
               "encoding": {"x": {"field": "px", "type": "quantitative", "scale": {"domain": [0.357, 2.643], "nice": false, "zero": false}}, "y": {"datum": -0.86, "type": "quantitative", "scale": {"domain": [0, 3]}}, "text": {"field": "n"}}},
              {"data": {"values": [{"panel": "g"}]}, "mark": {"type": "text", "fontSize": 17, "align": "left", "baseline": "alphabetic"},
               "encoding": {"x": {"datum": -0.5, "type": "quantitative", "scale": {"domain": [0.357, 2.643], "nice": false, "zero": false}}, "y": {"datum": 3.205, "type": "quantitative", "scale": {"domain": [0, 3]}}, "text": {"field": "panel"}}}
            ]
          }
        ],
        "spacing": 62
      },
      {
        "width": 133, "height": 88,
        "data": {"values": [
          {"x": 0.64, "y": 1.99}, {"x": 0.74, "y": 1.89}, {"x": 0.80, "y": 1.83}, {"x": 0.86, "y": 2.38}, {"x": 0.80, "y": 1.73},
          {"x": 0.93, "y": 2.06}, {"x": 0.89, "y": 1.54}, {"x": 1.05, "y": 1.59}, {"x": 1.05, "y": 1.52}, {"x": 1.14, "y": 2.11},
          {"x": 0.74, "y": 1.02}, {"x": 1.05, "y": 0.64}, {"x": 1.24, "y": 1.40}, {"x": 1.40, "y": 1.70}, {"x": 1.34, "y": 1.07},
          {"x": 1.30, "y": 0.64}, {"x": 1.55, "y": 1.26}, {"x": 1.52, "y": 0.52}, {"x": 1.72, "y": 1.83}, {"x": 1.77, "y": 1.67},
          {"x": 1.87, "y": 1.79}, {"x": 1.89, "y": 1.67}, {"x": 1.93, "y": 1.61}, {"x": 1.97, "y": 1.50}, {"x": 1.82, "y": 1.12},
          {"x": 1.82, "y": 0.57}, {"x": 2.12, "y": 1.03}, {"x": 2.18, "y": 0.41}, {"x": 2.31, "y": 1.16}, {"x": 2.31, "y": 0.45},
          {"x": 2.38, "y": 0.50}, {"x": 2.41, "y": 1.71}, {"x": 2.47, "y": 1.78}, {"x": 2.52, "y": 1.85}, {"x": 2.41, "y": 0.88},
          {"x": 2.62, "y": 1.03}, {"x": 2.55, "y": 0.82}, {"x": 2.64, "y": 1.83}, {"x": 2.74, "y": 0.60}, {"x": 2.81, "y": 0.74},
          {"x": 2.93, "y": 0.83}, {"x": 3.02, "y": 0.78}, {"x": 3.09, "y": 1.12}, {"x": 3.09, "y": 0.60}, {"x": 3.14, "y": 0.88},
          {"x": 3.18, "y": 0.53}, {"x": 3.22, "y": 0.41}, {"x": 3.25, "y": 0.25}, {"x": 3.28, "y": 1.64}, {"x": 3.22, "y": 0.74},
          {"x": 3.36, "y": 0.97}, {"x": 3.39, "y": 0.91}, {"x": 3.56, "y": 1.90}, {"x": 3.52, "y": 0.28}, {"x": 3.66, "y": 1.35},
          {"x": 3.76, "y": 0.64}, {"x": 3.91, "y": 0.72}, {"x": 3.97, "y": 1.31}, {"x": 4.10, "y": 1.48}, {"x": 4.22, "y": 1.07}
        ]},
        "layer": [
          {"mark": {"type": "point", "filled": true, "opacity": 1, "color": "#000000", "size": 22},
           "encoding": {
             "x": {"field": "x", "type": "quantitative", "scale": {"domain": [0, 5], "nice": false}, "axis": {"values": [0, 1, 2, 3, 4, 5], "tickCount": 20, "format": "d", "title": "Relative circ_LDLR expression", "titleFontSize": 11, "titlePadding": 4, "labelOverlap": false}},
             "y": {"field": "y", "type": "quantitative", "scale": {"domain": [0, 2.5]}, "axis": {"values": [0, 0.5, 1, 1.5, 2, 2.5], "tickCount": 20, "format": ".1f", "title": ["Relative miR-195-5p", "expression"], "titleFontSize": 10.5, "labelOverlap": false}}
           }},
          {"transform": [{"regression": "y", "on": "x"}], "mark": {"type": "line", "color": "#000000", "strokeWidth": 1},
           "encoding": {"x": {"field": "x", "type": "quantitative", "scale": {"domain": [0, 5], "nice": false}}, "y": {"field": "y", "type": "quantitative", "scale": {"domain": [0, 2.5]}}}},
          {"data": {"values": [{"label": "r=-0.4334"}]}, "mark": {"type": "text", "fontSize": 9, "align": "left", "baseline": "alphabetic"},
           "encoding": {"x": {"datum": 1.17, "type": "quantitative", "scale": {"domain": [0, 5], "nice": false}}, "y": {"datum": 2.67, "type": "quantitative", "scale": {"domain": [0, 2.5]}}, "text": {"field": "label"}}},
          {"data": {"values": [{"label": "P"}]}, "mark": {"type": "text", "fontSize": 9, "fontStyle": "italic", "align": "left", "baseline": "alphabetic"},
           "encoding": {"x": {"datum": 2.74, "type": "quantitative", "scale": {"domain": [0, 5], "nice": false}}, "y": {"datum": 2.67, "type": "quantitative", "scale": {"domain": [0, 2.5]}}, "text": {"field": "label"}}},
          {"data": {"values": [{"label": "=0.0005"}]}, "mark": {"type": "text", "fontSize": 9, "align": "left", "baseline": "alphabetic"},
           "encoding": {"x": {"datum": 2.97, "type": "quantitative", "scale": {"domain": [0, 5], "nice": false}}, "y": {"datum": 2.67, "type": "quantitative", "scale": {"domain": [0, 2.5]}}, "text": {"field": "label"}}},
          {"data": {"values": [{"panel": "h"}]}, "mark": {"type": "text", "fontSize": 17, "align": "left", "baseline": "alphabetic"},
           "encoding": {"x": {"datum": -2.218, "type": "quantitative", "scale": {"domain": [0, 5], "nice": false}}, "y": {"datum": 2.557, "type": "quantitative", "scale": {"domain": [0, 2.5]}}, "text": {"field": "panel"}}}
        ]
      }
    ],
    "spacing": 58
  }
]
}
